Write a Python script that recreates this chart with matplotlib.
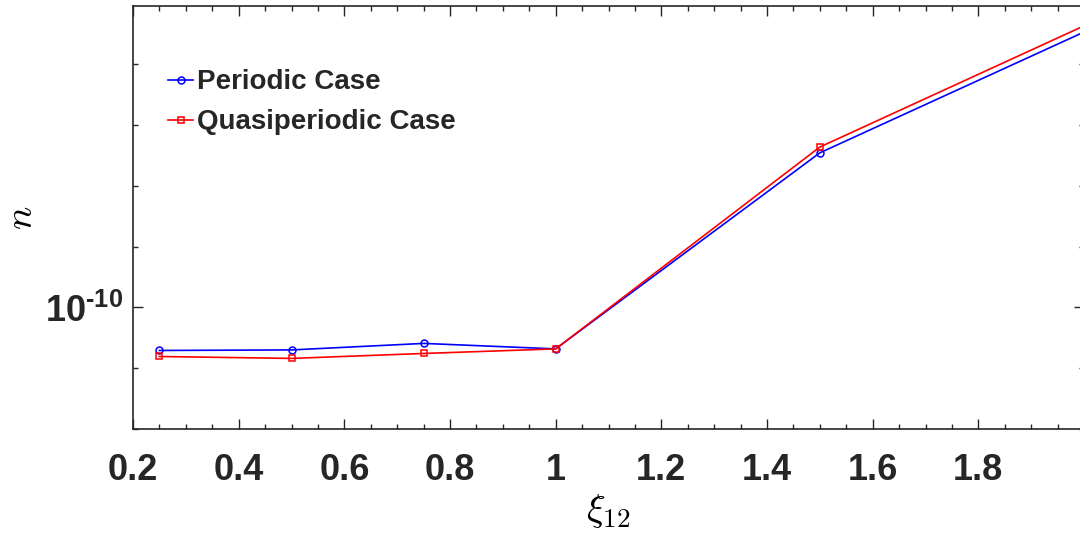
import matplotlib
matplotlib.use("Agg")
import matplotlib.pyplot as plt
from matplotlib.ticker import FixedLocator, NullFormatter

# Data
xi12 = [0.25, 0.5, 0.75, 1.0, 1.5, 2.0]
n_periodic = [1.96e-11, 2.0e-11, 2.56e-11, 2.08e-11, 3.5e-8, 3.4e-6]
n_quasi = [1.56e-11, 1.45e-11, 1.75e-11, 2.08e-11, 4.36e-8, 4.3e-6]
series_labels = ["Periodic Case", "Quasiperiodic Case"]
xtick_vals = [0.2, 0.4, 0.6, 0.8, 1.0, 1.2, 1.4, 1.6, 1.8]
xtick_labels = ["0.2", "0.4", "0.6", "0.8", "1", "1.2", "1.4", "1.6", "1.8"]
ymajor = [1e-10]
ymajor_labels = [r'$\mathbf{10^{\text{-}10}}$']
yminor = [1e-12, 1e-11, 1e-9, 1e-8, 1e-7, 1e-6]

plt.rcParams['font.family'] = ['Liberation Sans', 'DejaVu Sans']
plt.rcParams['mathtext.fontset'] = 'custom'
plt.rcParams['mathtext.rm'] = 'Liberation Sans:bold'
plt.rcParams['mathtext.bf'] = 'Liberation Sans:bold'
plt.rcParams['mathtext.it'] = 'Liberation Sans:bold'

W, H = 1080, 534
fig = plt.figure(figsize=(W/100, H/100), dpi=100)
ax = fig.add_axes([133/W, (H-429)/H, (1084-133)/W, (429-6)/H])

ax.plot(xi12, n_periodic, '-o', color='#0000ff', lw=1.2, ms=5, mfc='none', mew=1.1,
        label=series_labels[0])
ax.plot(xi12, n_quasi, '-s', color='#ff0000', lw=1.2, ms=5, mfc='none', mew=1.1,
        label=series_labels[1])

ax.set_yscale('log')
ax.set_xlim(0.2, 2.0)
ax.set_ylim(1e-12, 10**-5.04)

ax.set_xticks(xtick_vals)
ax.set_xticklabels(xtick_labels, fontsize=26, fontweight='bold', color='#262626')
ax.xaxis.set_minor_locator(FixedLocator([0.2 + 0.05*i for i in range(37)]))

ax.yaxis.set_major_locator(FixedLocator(ymajor))
ax.set_yticklabels(ymajor_labels, fontsize=26, color='#262626')
ax.yaxis.set_minor_locator(FixedLocator(yminor))
ax.yaxis.set_minor_formatter(NullFormatter())

ax.tick_params(which='both', direction='in', top=True, right=True, color='#262626', width=1.0)
ax.tick_params(which='major', length=7.5)
ax.tick_params(which='minor', length=3.5)
ax.tick_params(axis='x', which='major', pad=17)
ax.tick_params(axis='y', which='major', pad=7)
for s in ax.spines.values():
    s.set_color('#262626')
    s.set_linewidth(1.2)

ax.set_xlabel(r'$\xi_{12}$', fontsize=28, math_fontfamily='cm', labelpad=3)
ax.set_ylabel(r'$n$', fontsize=28, math_fontfamily='cm', labelpad=4)

leg = ax.legend(loc='upper left', bbox_to_anchor=(0.037, 0.85), frameon=False,
                borderaxespad=0, borderpad=0, handlelength=0.9, handletextpad=0.15,
                labelspacing=0.5, prop={'weight': 'bold', 'size': 20})
for t in leg.get_texts():
    t.set_color('#262626')

fig.savefig('out.png', dpi=100)
